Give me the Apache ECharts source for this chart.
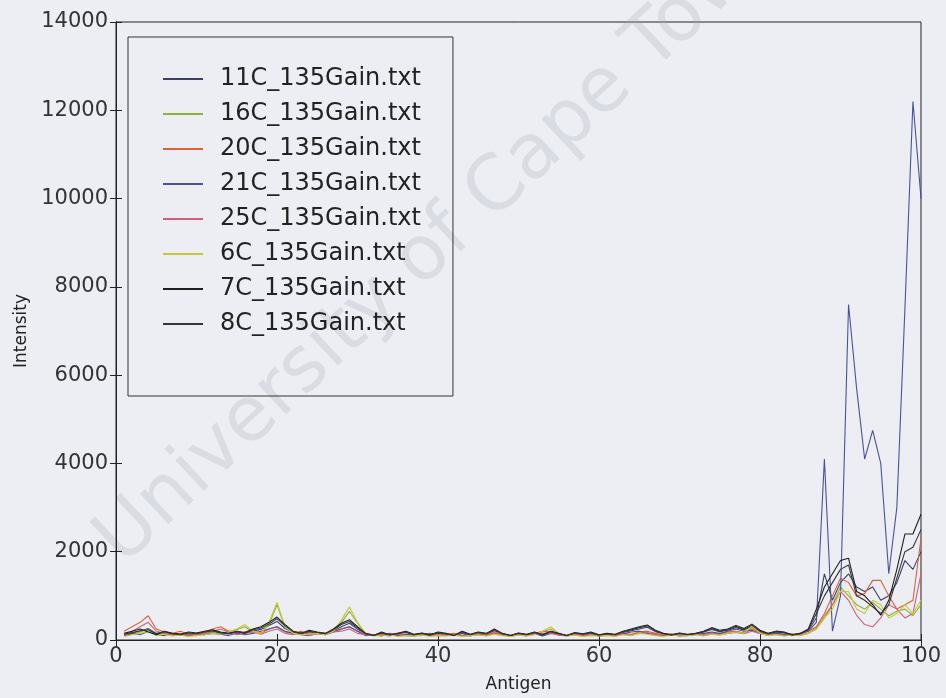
<!DOCTYPE html>
<html>
<head>
<meta charset="utf-8">
<script src="https://cdn.jsdelivr.net/npm/echarts@6/dist/echarts.min.js"></script>
<style>
html,body{margin:0;padding:0;background:#eceef3;}
#chart{width:946px;height:698px;}
</style>
</head>
<body>
<div id="chart"></div>
<script>
const seriesNames = ['11C_135Gain.txt','16C_135Gain.txt','20C_135Gain.txt','21C_135Gain.txt','25C_135Gain.txt','6C_135Gain.txt','7C_135Gain.txt','8C_135Gain.txt'];
const seriesColors = ['#3c3f66','#8fb03c','#e0603a','#4a529a','#d0607a','#c8c832','#1e1e1e','#353535'];
const antigenStart = 1; // antigen index of the first value

const s11C = [120,160,200,260,150,170,130,140,120,150, 160,190,170,140,180,160,200,240,330,420,
  260,170,140,180,160,140,210,300,380,250, 130,110,150,110,140,170,120,140,110,150,
  130,110,170,120,150,130,210,140,100,140, 120,160,130,180,140,100,150,130,160,110,
  140,120,170,210,250,290,190,140,120,140, 120,140,180,240,190,220,280,230,300,190,
  140,180,160,120,140,220,500,1500,900,1300, 1500,1200,1100,1200,900,1000,1300,1800,1600,2000];
const s16C = [100,130,180,250,120,150,100,120,90,110, 130,160,150,200,230,300,180,160,350,800,
  280,160,130,140,160,130,190,400,650,380, 140,110,100,130,90,110,100,120,90,110,
  100,120,90,110,130,100,140,110,90,120, 100,130,180,250,140,100,120,90,110,100,
  110,90,130,110,160,140,110,90,120,100, 110,130,100,140,120,160,190,160,280,160,
  110,130,100,120,110,160,280,550,800,1200, 1000,800,700,850,700,550,650,700,550,800];
const s20C = [200,300,400,550,250,180,150,200,130,150, 180,250,300,200,150,180,200,150,250,300,
  180,150,200,130,170,150,200,250,300,200, 150,120,130,100,160,120,100,130,150,110,
  130,150,100,120,150,110,180,130,100,150, 120,150,200,180,130,100,150,120,140,110,
  130,120,150,130,180,200,150,120,140,100, 120,150,130,160,140,180,200,160,250,180,
  130,150,120,140,130,200,300,600,1000,1400, 1300,1000,1050,1350,1350,1000,700,800,900,2300];
const s21C = [100,150,120,200,130,100,150,120,100,140, 120,150,130,100,160,120,150,200,250,300,
  200,150,120,100,150,120,180,250,300,200, 100,120,90,150,100,130,110,100,140,90,
  120,100,150,90,130,100,150,120,90,110, 100,140,90,150,120,100,130,100,150,90,
  120,100,140,180,200,150,130,100,120,100, 110,120,150,180,150,200,250,200,220,150,
  120,150,130,100,150,200,400,4100,200,1000, 7600,5700,4100,4750,4000,1500,3000,7500,12200,10000];
const s25C = [100,200,300,400,200,150,120,150,100,130, 150,200,250,180,120,150,180,130,200,250,
  150,120,180,100,140,120,180,200,250,150, 120,100,110,90,130,100,90,110,120,100,
  110,130,90,100,120,100,150,110,90,120, 100,130,150,160,110,90,120,100,120,90,
  110,100,130,110,150,170,130,100,120,90, 100,130,110,140,120,150,170,140,200,150,
  110,130,100,120,110,150,250,500,800,1100, 900,560,350,300,500,800,700,500,600,1500];
const s6C = [80,120,150,200,100,130,90,110,80,100, 120,150,130,180,250,350,200,150,400,850,
  300,150,120,130,150,120,200,450,750,400, 150,100,90,120,80,100,90,110,80,100,
  90,110,80,100,120,90,130,100,80,110, 90,120,200,300,150,90,110,80,100,90,
  100,80,120,100,150,130,100,80,110,90, 100,120,90,130,110,150,180,150,320,150,
  100,120,90,110,100,150,250,500,700,1100, 1100,700,600,900,800,500,600,800,600,900];
const s7C = [150,200,250,180,120,200,150,130,180,160, 200,230,180,150,200,170,250,300,400,520,
  350,200,150,220,180,150,250,380,460,300, 150,100,180,120,150,200,130,160,120,180,
  150,100,200,130,180,150,250,150,100,160, 130,180,120,200,150,100,170,140,180,120,
  150,130,200,250,300,340,220,150,120,160, 130,150,200,280,220,250,330,260,360,220,
  150,200,180,120,150,250,700,1200,1500,1800, 1850,1100,1000,800,560,900,1600,2400,2400,2850];
const s8C = [130,170,210,230,140,190,140,120,160,140, 180,210,160,140,190,150,230,270,360,480,
  320,190,150,200,170,140,230,350,420,280, 140,100,160,120,140,190,120,150,110,170,
  140,100,190,120,170,140,230,140,100,150, 120,170,110,190,140,100,160,130,170,110,
  140,120,190,230,280,320,210,140,110,150, 120,140,190,260,200,240,310,240,340,200,
  140,190,170,110,140,240,600,1000,1300,1600, 1700,1000,900,750,600,800,1400,2000,2100,2500];

const allValues = [s11C, s16C, s20C, s21C, s25C, s6C, s7C, s8C];
const xTicks = [0, 20, 40, 60, 80, 100];
const yTicks = [0, 2000, 4000, 6000, 8000, 10000, 12000, 14000];

const chart = echarts.init(document.getElementById('chart'));
const series = allValues.map((vals, i) => ({
  name: seriesNames[i],
  type: 'line',
  symbol: 'none',
  data: vals.map((v, k) => [antigenStart + k, v]),
  lineStyle: { width: 1.1, color: seriesColors[i] },
  itemStyle: { color: seriesColors[i] },
  z: 3
}));

const font = 'DejaVu Sans';
const axisCommon = {
  axisLine: { show: true, lineStyle: { color: '#222', width: 1 } },
  axisTick: { show: true, inside: true, length: 6, lineStyle: { color: '#222' } },
  splitLine: { show: false }
};

chart.setOption({
  backgroundColor: '#eceef3',
  animation: false,
  graphic: [{
    type: 'text',
    x: 135, y: 580,
    rotation: 43 * Math.PI / 180,
    z: 0,
    silent: true,
    style: { text: 'University of Cape Town', fill: 'rgba(165,168,178,0.25)', font: '76px "DejaVu Sans"', verticalAlign: 'bottom', align: 'left' }
  }],
  grid: { left: 116, right: 25, top: 22, bottom: 52, show: true, borderColor: '#222', borderWidth: 1, backgroundColor: 'transparent' },
  legend: {
    orient: 'vertical',
    left: 128, top: 37,
    data: seriesNames,
    icon: 'rect',
    itemWidth: 40, itemHeight: 2,
    itemGap: 11,
    padding: [30, 32, 60, 35],
    borderColor: '#333', borderWidth: 1,
    backgroundColor: 'transparent',
    textStyle: { fontFamily: font, fontSize: 24, color: '#222', padding: [0, 0, 0, 12] }
  },
  xAxis: [
    Object.assign({}, axisCommon, {
      type: 'value', min: 0, max: 100, interval: 20,
      name: 'Antigen', nameLocation: 'middle', nameGap: 36,
      nameTextStyle: { fontFamily: font, fontSize: 17, color: '#222' },
      axisLabel: { fontFamily: font, fontSize: 21, color: '#333', margin: 6, formatter: v => xTicks.includes(v) ? String(v) : '' }
    }),
    Object.assign({}, axisCommon, {
      type: 'value', min: 0, max: 100, interval: 20, position: 'top',
      axisLabel: { show: false }
    })
  ],
  yAxis: [
    Object.assign({}, axisCommon, {
      type: 'value', min: 0, max: 14000, interval: 2000,
      name: 'Intensity', nameLocation: 'middle', nameGap: 78, nameRotate: 90,
      nameTextStyle: { fontFamily: font, fontSize: 17, color: '#222' },
      axisLabel: { fontFamily: font, fontSize: 21, color: '#333', margin: 8, formatter: v => yTicks.includes(v) ? String(v) : '' }
    }),
    Object.assign({}, axisCommon, {
      type: 'value', min: 0, max: 14000, interval: 2000, position: 'right',
      axisLabel: { show: false }
    })
  ],
  series: series
});
</script>
</body>
</html>
